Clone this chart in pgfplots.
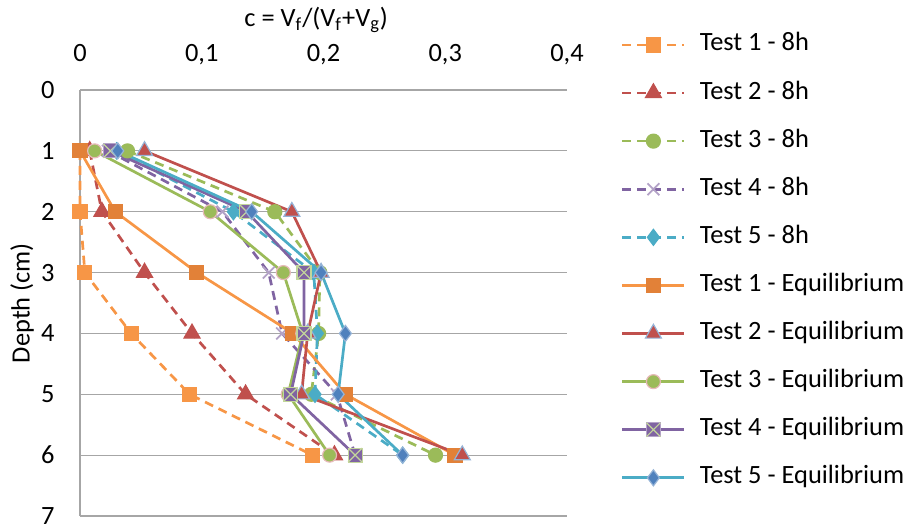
\documentclass[border=0pt]{standalone}
\usepackage{fontspec}
\setmainfont{Carlito}
\usepackage{pgfplots}
\pgfplotsset{compat=1.18}

\definecolor{gridgray}{RGB}{166,166,166}
\definecolor{c1}{RGB}{247,150,70}
\definecolor{c1d}{RGB}{226,129,56}
\definecolor{c2}{RGB}{192,80,77}
\definecolor{c3}{RGB}{155,187,89}
\definecolor{c4}{RGB}{128,100,162}
\definecolor{c4l}{RGB}{179,162,199}
\definecolor{c5}{RGB}{75,172,198}
\definecolor{c5d}{RGB}{79,129,189}
\definecolor{edgeblue}{RGB}{149,179,215}
\definecolor{edgepink}{RGB}{230,185,184}
\definecolor{xgreen}{RGB}{195,214,155}

% filled square with a light green cross, as Excel draws it
\pgfdeclareplotmark{boxx}{%
  \pgfpathrectangle{\pgfqpoint{-\pgfplotmarksize}{-\pgfplotmarksize}}{\pgfqpoint{2\pgfplotmarksize}{2\pgfplotmarksize}}%
  \pgfusepathqfillstroke
  \pgfsetstrokecolor{xgreen}%
  \pgfpathmoveto{\pgfqpoint{-\pgfplotmarksize}{-\pgfplotmarksize}}%
  \pgfpathlineto{\pgfqpoint{\pgfplotmarksize}{\pgfplotmarksize}}%
  \pgfpathmoveto{\pgfqpoint{-\pgfplotmarksize}{\pgfplotmarksize}}%
  \pgfpathlineto{\pgfqpoint{\pgfplotmarksize}{-\pgfplotmarksize}}%
  \pgfusepathqstroke
}

\begin{document}
\begin{tikzpicture}[font=\fontsize{13.2}{15.8}\selectfont]
\begin{axis}[
  at={(40pt,6.5pt)}, anchor=south west,
  width=243.5pt, height=213pt, scale only axis,
  xmin=0, xmax=0.4, ymin=0, ymax=7, y dir=reverse,
  axis x line*=top, axis y line*=left,
  axis line style={draw=gridgray, line width=0.6pt, -},
  xtick={0,0.1,0.2,0.3,0.4},
  ytick={0,1,...,7},
  ymajorgrids, grid style={gridgray, line width=0.6pt},
  major tick length=0pt,
  xticklabel style={inner sep=0pt, text depth=0pt, anchor=base},
  xticklabel shift=14.5pt,
  yticklabel style={inner sep=0pt, anchor=east},
  yticklabel shift=12.5pt,
  /pgf/number format/.cd, fixed, use comma, precision=1, assume math mode=true,
  /pgfplots/.cd,
  xlabel={c = V\textsubscript{f}/(V\textsubscript{f}+V\textsubscript{g})},
  xlabel style={at={(axis description cs:0.485,1.150)}, anchor=base, inner sep=0pt},
  ylabel={Depth (cm)},
  ylabel style={at={(axis description cs:-0.119,0.5)}, anchor=center, inner sep=0pt},
  clip=false,
  every axis plot/.append style={line width=1.35pt},
  dashed8/.style={dash pattern=on 4.5pt off 3pt},
  legend cell align=left,
  legend image code/.code={\draw[mark repeat=2,mark phase=2,#1] plot coordinates {(0pt,0pt) (15.5pt,0pt) (31pt,0pt)};},
  legend style={at={(axis description cs:1.111,1.134)}, anchor=north west,
    draw=none, fill=none, inner sep=0pt, outer sep=0pt,
    row sep=12.05pt, column sep=7pt,
    nodes={inner sep=0pt, text height=9pt, text depth=3pt}},
]
% 8 h profiles (dashed)
\addplot[c1, dashed8, mark=square*, mark size=3.5pt, mark options={solid, line width=0.6pt, fill=c1, draw=c1}]
  coordinates {(0,1) (0,2) (0.004,3) (0.042,4) (0.090,5) (0.191,6)};
\addlegendentry{Test 1 - 8h}
\addplot[c2, dashed8, mark=triangle*, mark size=4.6pt, mark options={solid, line width=0.6pt, fill=c2, draw=c2}]
  coordinates {(0.008,1) (0.018,2) (0.053,3) (0.092,4) (0.136,5) (0.209,6)};
\addlegendentry{Test 2 - 8h}
\addplot[c3, dashed8, mark=*, mark size=3.5pt, mark options={solid, line width=0.6pt, fill=c3, draw=c3}]
  coordinates {(0.039,1) (0.160,2) (0.197,3) (0.196,4) (0.190,5) (0.292,6)};
\addlegendentry{Test 3 - 8h}
\addplot[c4, dashed8, mark=x, mark size=4.2pt, mark options={solid, line width=0.9pt, draw=c4l}]
  coordinates {(0.023,1) (0.117,2) (0.155,3) (0.166,4) (0.211,5) (0.226,6)};
\addlegendentry{Test 4 - 8h}
\addplot[c5, dashed8, mark=diamond*, mark size=4pt, mark options={solid, line width=0.6pt, fill=c5, draw=c5}]
  coordinates {(0.030,1) (0.126,2) (0.192,3) (0.195,4) (0.193,5) (0.265,6)};
\addlegendentry{Test 5 - 8h}
% equilibrium profiles (solid)
\addplot[c1, mark=square*, mark size=3.5pt, mark options={solid, line width=0.6pt, fill=c1d, draw=c1d}]
  coordinates {(0,1) (0.029,2) (0.096,3) (0.175,4) (0.218,5) (0.308,6)};
\addlegendentry{Test 1 - Equilibrium}
\addplot[c2, mark=triangle*, mark size=4.6pt, mark options={solid, line width=0.6pt, fill=c2, draw=edgeblue}]
  coordinates {(0.053,1) (0.174,2) (0.198,3) (0.187,4) (0.182,5) (0.314,6)};
\addlegendentry{Test 2 - Equilibrium}
\addplot[c3, mark=*, mark size=3.5pt, mark options={solid, line width=0.6pt, fill=c3, draw=edgepink}]
  coordinates {(0.012,1) (0.107,2) (0.167,3) (0.183,4) (0.171,5) (0.205,6)};
\addlegendentry{Test 3 - Equilibrium}
\addplot[c4, mark=boxx, mark size=3.5pt, mark options={solid, line width=0.6pt, fill=c4, draw=c4l}]
  coordinates {(0.025,1) (0.137,2) (0.184,3) (0.184,4) (0.173,5) (0.226,6)};
\addlegendentry{Test 4 - Equilibrium}
\addplot[c5, mark=diamond*, mark size=4pt, mark options={solid, line width=0.6pt, fill=c5d, draw=edgeblue}]
  coordinates {(0.031,1) (0.141,2) (0.198,3) (0.218,4) (0.212,5) (0.265,6)};
\addlegendentry{Test 5 - Equilibrium}
\end{axis}
\pgfresetboundingbox
\useasboundingbox (0,0) rectangle (454.5pt,264.5pt);
\end{tikzpicture}
\end{document}
